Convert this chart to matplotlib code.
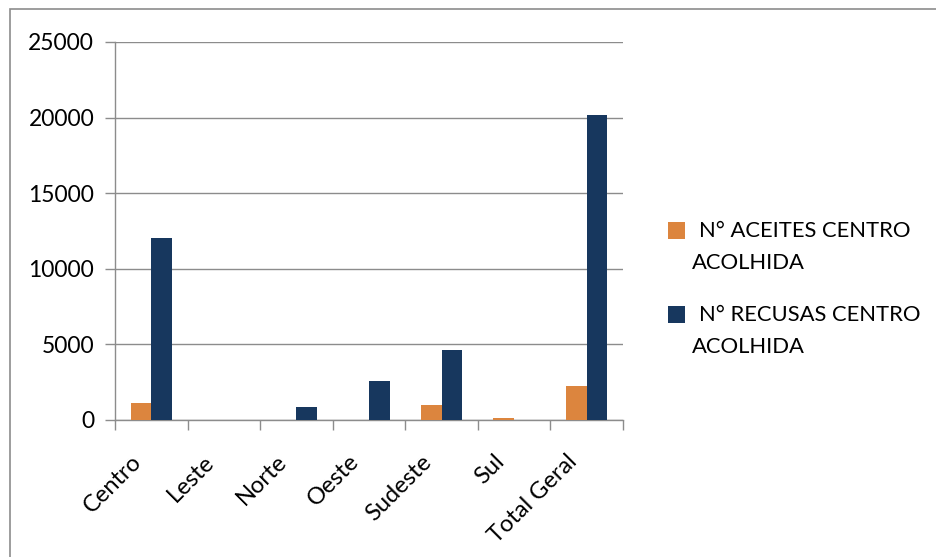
import numpy as np
import matplotlib.pyplot as plt
from matplotlib.patches import Rectangle

categories = ["Centro", "Leste", "Norte", "Oeste", "Sudeste", "Sul", "Total Geral"]
aceites = [1100, 0, 10, 10, 1000, 150, 2270]
recusas = [12050, 30, 850, 2580, 4600, 30, 20140]
series_names = [["N° ACEITES CENTRO", "ACOLHIDA"], ["N° RECUSAS CENTRO", "ACOLHIDA"]]
colors = ["#DC853E", "#17375E"]

plt.rcParams['font.family'] = ['Lato', 'DejaVu Sans']
FS = 16.5
W, H = 936, 557

fig = plt.figure(figsize=(W/100, H/100), dpi=100)
ax = fig.add_axes([115/W, 1 - 420/H, 508/W, 378/H])

x = np.arange(len(categories))
w = 0.285
ax.bar(x - w/2, aceites, width=w, color=colors[0], zorder=3)
ax.bar(x + w/2, recusas, width=w, color=colors[1], zorder=3)

ax.set_xlim(-0.5, len(categories) - 0.5)
ax.set_ylim(0, 25000)
ax.set_yticks(np.arange(0, 25001, 5000))
ax.yaxis.grid(True, color="#8c8c8c", lw=1, zorder=0)

# ticks on category boundaries, labels placed by hand
ax.set_xticks(np.arange(-0.5, len(categories), 1.0))
ax.set_xticklabels([])
ax.tick_params(axis="x", length=7, color="#8c8c8c", width=1)
ax.tick_params(axis="y", length=7, color="#8c8c8c", width=1, labelsize=FS, pad=8)

for i, lab in enumerate(categories):
    ax.text(i - 0.28, -31/378, lab, transform=ax.get_xaxis_transform(),
            rotation=45, ha="right", va="top", rotation_mode="anchor",
            fontsize=17)

for s in ["top", "right"]:
    ax.spines[s].set_visible(False)
for s in ["left", "bottom"]:
    ax.spines[s].set_color("#8c8c8c")
    ax.spines[s].set_linewidth(1)

# legend drawn manually so the marker sits by the first line
for i, (lines, c) in enumerate(zip(series_names, colors)):
    ytop = 222 + i * 84
    fig.patches.append(Rectangle((668/W, 1 - (ytop + 17)/H), 17/W, 17/H,
                                 transform=fig.transFigure, facecolor=c,
                                 edgecolor="none"))
    fig.text(699/W, 1 - (ytop + 9)/H, lines[0], fontsize=15.8, va="center", ha="left")
    fig.text(692/W, 1 - (ytop + 41)/H, lines[1], fontsize=15.8, va="center", ha="left")

# outer chart border (only top and left edges fall inside the image)
fig.patches.append(Rectangle((10/W, -0.1), 1.0, 1 - 9/H + 0.1,
                             transform=fig.transFigure, facecolor="none",
                             edgecolor="#8c8c8c", lw=1.2))

fig.savefig("out.png", dpi=100)
